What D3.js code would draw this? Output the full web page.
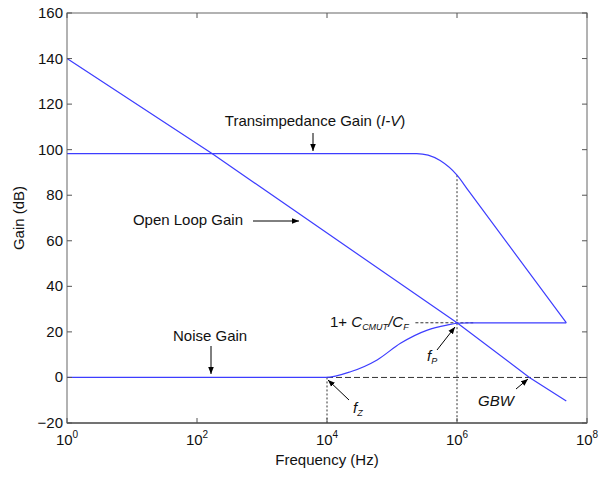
<!DOCTYPE html>
<html><head><meta charset="utf-8">
<script src="https://cdn.jsdelivr.net/npm/d3@7"></script>
<style>
body{margin:0;background:#fff;}
svg{display:block;font-family:"Liberation Sans",Arial,sans-serif;}
</style></head>
<body>
<svg id="chart" width="600" height="480"></svg>
<script>
// ---- data (frequency in Hz, gain in dB) ----
const xTickExps = [0, 2, 4, 6, 8];
const yTicks = [-20, 0, 20, 40, 60, 80, 100, 120, 140, 160];

const openLoopFreq = [1, 170, 1e6, 1.3e7, 4.8e7];
const openLoopGain = [140, 98.3, 24, 0, -10.3];

const transFreq = [1, 2.4e5, 3.6e5, 5.5e5, 1e6, 1.5e6, 4.8e7];
const transGain = [98.3, 98.3, 97.6, 95.2, 88.8, 82.0, 24];

const noiseFreq = [1, 9.5e3, 2.3e4, 5.9e4, 1.35e5, 3.5e5, 7e5, 1e6, 1.5e6, 4.8e7];
const noiseGain = [0, 0, 2.5, 7.7, 15, 20.8, 23, 23.8, 24, 24];

// reference lines
const fZ = 1e4, fP = 1e6, plateau = 24;

const W = 600, H = 480;
const m = {l: 67, r: 13, t: 13, b: 57};
const svg = d3.select("#chart");
const x = d3.scaleLog().domain([1, 1e8]).range([m.l, W - m.r]);
const y = d3.scaleLinear().domain([-20, 160]).range([H - m.b, m.t]);

const blue = "#3d3dff";
const line = d3.line().x(d => x(d[0])).y(d => y(d[1])).curve(d3.curveMonotoneX);
const zip = (a, b) => a.map((v, i) => [v, b[i]]);

// arrow marker
svg.append("defs").append("marker").attr("id", "ah").attr("viewBox", "0 0 10 10")
  .attr("refX", 10).attr("refY", 5).attr("markerWidth", 7).attr("markerHeight", 7)
  .attr("markerUnits", "userSpaceOnUse").attr("orient", "auto")
  .append("path").attr("d", "M0,1 L10,5 L0,9 Z").attr("fill", "#000");

// reference dashed / dotted lines
const g = svg.append("g");
g.append("line").attr("x1", x(fZ)).attr("x2", x(10 ** 7.92)).attr("y1", y(0)).attr("y2", y(0))
  .attr("stroke", "#333").attr("stroke-dasharray", "6,3").attr("stroke-width", 1);
g.append("line").attr("x1", x(fZ)).attr("x2", x(fZ)).attr("y1", y(0)).attr("y2", y(-20))
  .attr("stroke", "#333").attr("stroke-dasharray", "2,2").attr("stroke-width", 1);
g.append("line").attr("x1", x(fP)).attr("x2", x(fP)).attr("y1", y(88.8)).attr("y2", y(-20))
  .attr("stroke", "#333").attr("stroke-dasharray", "2,2").attr("stroke-width", 1);
g.append("line").attr("x1", x(10 ** 5.36)).attr("x2", x(10 ** 6.25)).attr("y1", y(plateau)).attr("y2", y(plateau))
  .attr("stroke", "#333").attr("stroke-dasharray", "3,2").attr("stroke-width", 1);

// curves
[[openLoopFreq, openLoopGain, d3.curveLinear], [transFreq, transGain, d3.curveMonotoneX], [noiseFreq, noiseGain, d3.curveMonotoneX]]
  .forEach(([f, v, c]) => {
    svg.append("path").attr("d", line.curve(c)(zip(f, v))).attr("fill", "none")
      .attr("stroke", blue).attr("stroke-width", 1.2);
  });

// axes frame
const frame = svg.append("g");
frame.append("rect").attr("x", m.l).attr("y", m.t).attr("width", W - m.r - m.l).attr("height", H - m.b - m.t)
  .attr("fill", "none").attr("stroke", "#666").attr("stroke-width", 1);
frame.append("line").attr("x1", m.l).attr("x2", W - m.r).attr("y1", y(-20)).attr("y2", y(-20))
  .attr("stroke", "#333");

const tl = 5;
xTickExps.forEach(e => {
  const xx = x(10 ** e);
  frame.append("line").attr("x1", xx).attr("x2", xx).attr("y1", y(-20)).attr("y2", y(-20) - tl).attr("stroke", "#555");
  frame.append("line").attr("x1", xx).attr("x2", xx).attr("y1", m.t).attr("y2", m.t + tl).attr("stroke", "#555");
  const t = frame.append("text").attr("x", xx).attr("y", y(-20) + 22).attr("text-anchor", "middle")
    .attr("font-size", 15).attr("fill", "#111");
  t.append("tspan").text("10");
  t.append("tspan").attr("dy", -7).attr("font-size", 10).text(e);
});
yTicks.forEach(v => {
  const yy = y(v);
  frame.append("line").attr("x1", m.l).attr("x2", m.l + tl).attr("y1", yy).attr("y2", yy).attr("stroke", "#555");
  frame.append("line").attr("x1", W - m.r).attr("x2", W - m.r - tl).attr("y1", yy).attr("y2", yy).attr("stroke", "#555");
  frame.append("text").attr("x", m.l - 4).attr("y", yy + 5).attr("text-anchor", "end")
    .attr("font-size", 15).attr("fill", "#111").text(v < 0 ? "\u2212" + Math.abs(v) : v);
});

// axis labels
svg.append("text").attr("x", (m.l + W - m.r) / 2).attr("y", 465).attr("text-anchor", "middle")
  .attr("font-size", 15).attr("fill", "#111").text("Frequency (Hz)");
svg.append("text").attr("transform", `translate(24,${(m.t + H - m.b) / 2}) rotate(-90)`)
  .attr("text-anchor", "middle").attr("font-size", 15).attr("fill", "#111").text("Gain (dB)");

// annotations
const ann = svg.append("g").attr("font-size", 15).attr("fill", "#111");
const arrow = (x1, y1, x2, y2) => svg.append("line").attr("x1", x1).attr("y1", y1).attr("x2", x2).attr("y2", y2)
  .attr("stroke", "#000").attr("stroke-width", 1).attr("marker-end", "url(#ah)");

let t = ann.append("text").attr("x", 315).attr("y", 126).attr("text-anchor", "middle");
t.append("tspan").text("Transimpedance Gain (");
t.append("tspan").attr("font-style", "italic").text("I-V");
t.append("tspan").text(")");
arrow(313, 133, 313, 151);

ann.append("text").attr("x", 243).attr("y", 225).attr("text-anchor", "end").text("Open Loop Gain");
arrow(253, 221, 299, 221);

ann.append("text").attr("x", 173).attr("y", 341).text("Noise Gain");
arrow(211, 346, 211, 374);

t = ann.append("text").attr("x", 330).attr("y", 327);
t.append("tspan").text("1+ ");
t.append("tspan").attr("font-style", "italic").text("C");
t.append("tspan").attr("font-style", "italic").attr("font-size", 9).attr("dy", 3).text("CMUT");
t.append("tspan").attr("font-style", "italic").attr("dy", -3).text("/C");
t.append("tspan").attr("font-style", "italic").attr("font-size", 9).attr("dy", 3).text("F");

t = ann.append("text").attr("x", 427).attr("y", 361).attr("font-style", "italic");
t.append("tspan").text("f");
t.append("tspan").attr("font-size", 9).attr("dy", 3).text("P");
arrow(437, 350, 455, 327);

t = ann.append("text").attr("x", 353).attr("y", 413).attr("font-style", "italic");
t.append("tspan").text("f");
t.append("tspan").attr("font-size", 9).attr("dy", 3).text("Z");
arrow(349, 400, 328, 380);

ann.append("text").attr("x", 478).attr("y", 406).attr("font-style", "italic").text("GBW");
arrow(516, 389, 528, 379);
</script>
</body></html>
